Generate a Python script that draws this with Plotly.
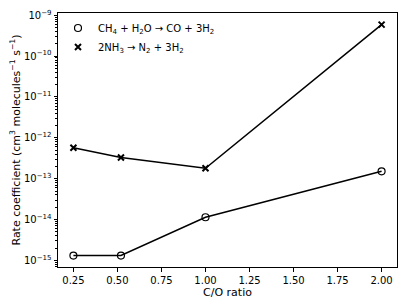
import plotly.graph_objects as go

co_ratio = [0.25, 0.52, 1.0, 2.0]
k_ch4 = [1.32e-15, 1.32e-15, 1.14e-14, 1.52e-13]
k_nh3 = [5.7e-13, 3.3e-13, 1.8e-13, 5.9e-10]
x_ticks = [0.25, 0.50, 0.75, 1.00, 1.25, 1.50, 1.75, 2.00]
x_ticklabels = ["0.25", "0.50", "0.75", "1.00", "1.25", "1.50", "1.75", "2.00"]
y_exps = [-15, -14, -13, -12, -11, -10, -9]

label_ch4 = "CH<sub>4</sub> + H<sub>2</sub>O → CO + 3H<sub>2</sub>"
label_nh3 = "2NH<sub>3</sub> → N<sub>2</sub> + 3H<sub>2</sub>"

font = "DejaVu Sans"
fig = go.Figure()
fig.add_trace(go.Scatter(x=co_ratio, y=k_ch4, mode="lines", line=dict(color="black", width=1.5),
                         showlegend=False, hoverinfo="skip"))
fig.add_trace(go.Scatter(x=co_ratio, y=k_nh3, mode="lines", line=dict(color="black", width=1.5),
                         showlegend=False, hoverinfo="skip"))
fig.add_trace(go.Scatter(x=co_ratio, y=k_ch4, mode="markers", name=label_ch4,
                         marker=dict(symbol="circle-open", size=7, color="black", line=dict(width=1.2))))
fig.add_trace(go.Scatter(x=co_ratio, y=k_nh3, mode="markers", name=label_nh3,
                         marker=dict(symbol="x-thin-open", size=6, color="black", line=dict(width=2))))

# page body has an 8px margin, so the figure is 8px smaller and margins shifted accordingly
fig.update_layout(
    width=399, height=297,
    margin=dict(l=50, r=10, t=5, b=38, autoexpand=False),
    paper_bgcolor="white", plot_bgcolor="white",
    font=dict(family=font, size=10, color="black"),
    showlegend=True,
    legend=dict(x=0.0, y=0.998, xanchor="left", yanchor="top",
                bgcolor="rgba(0,0,0,0)", font=dict(size=10), itemwidth=30, tracegroupgap=0),
    xaxis=dict(range=[0.1625, 2.0875], tickvals=x_ticks, ticktext=x_ticklabels,
               showgrid=False, zeroline=False, showline=True, linecolor="black", linewidth=1,
               mirror=True, ticks="outside", ticklen=3.5, tickwidth=1, tickcolor="black",
               title=dict(text="C/O ratio", font=dict(size=11), standoff=3)),
    yaxis=dict(type="log", range=[-15.16, -8.945],
               tickvals=[10.0 ** e for e in y_exps],
               ticktext=[f"10<sup>−{-e}</sup>" for e in y_exps],
               showgrid=False, zeroline=False, showline=True, linecolor="black", linewidth=1,
               mirror=True, ticks="outside", ticklen=3.5, tickwidth=1, tickcolor="black",
               minor=dict(ticks="outside", ticklen=2, tickwidth=0.6, tickcolor="black", dtick="D1", showgrid=False),
               title=dict(text="Rate coefficient (cm<sup>3</sup> molecules<sup>−1</sup> s<sup>−1</sup>)",
                          font=dict(size=11), standoff=5)),
)
fig.write_html("out.html")
